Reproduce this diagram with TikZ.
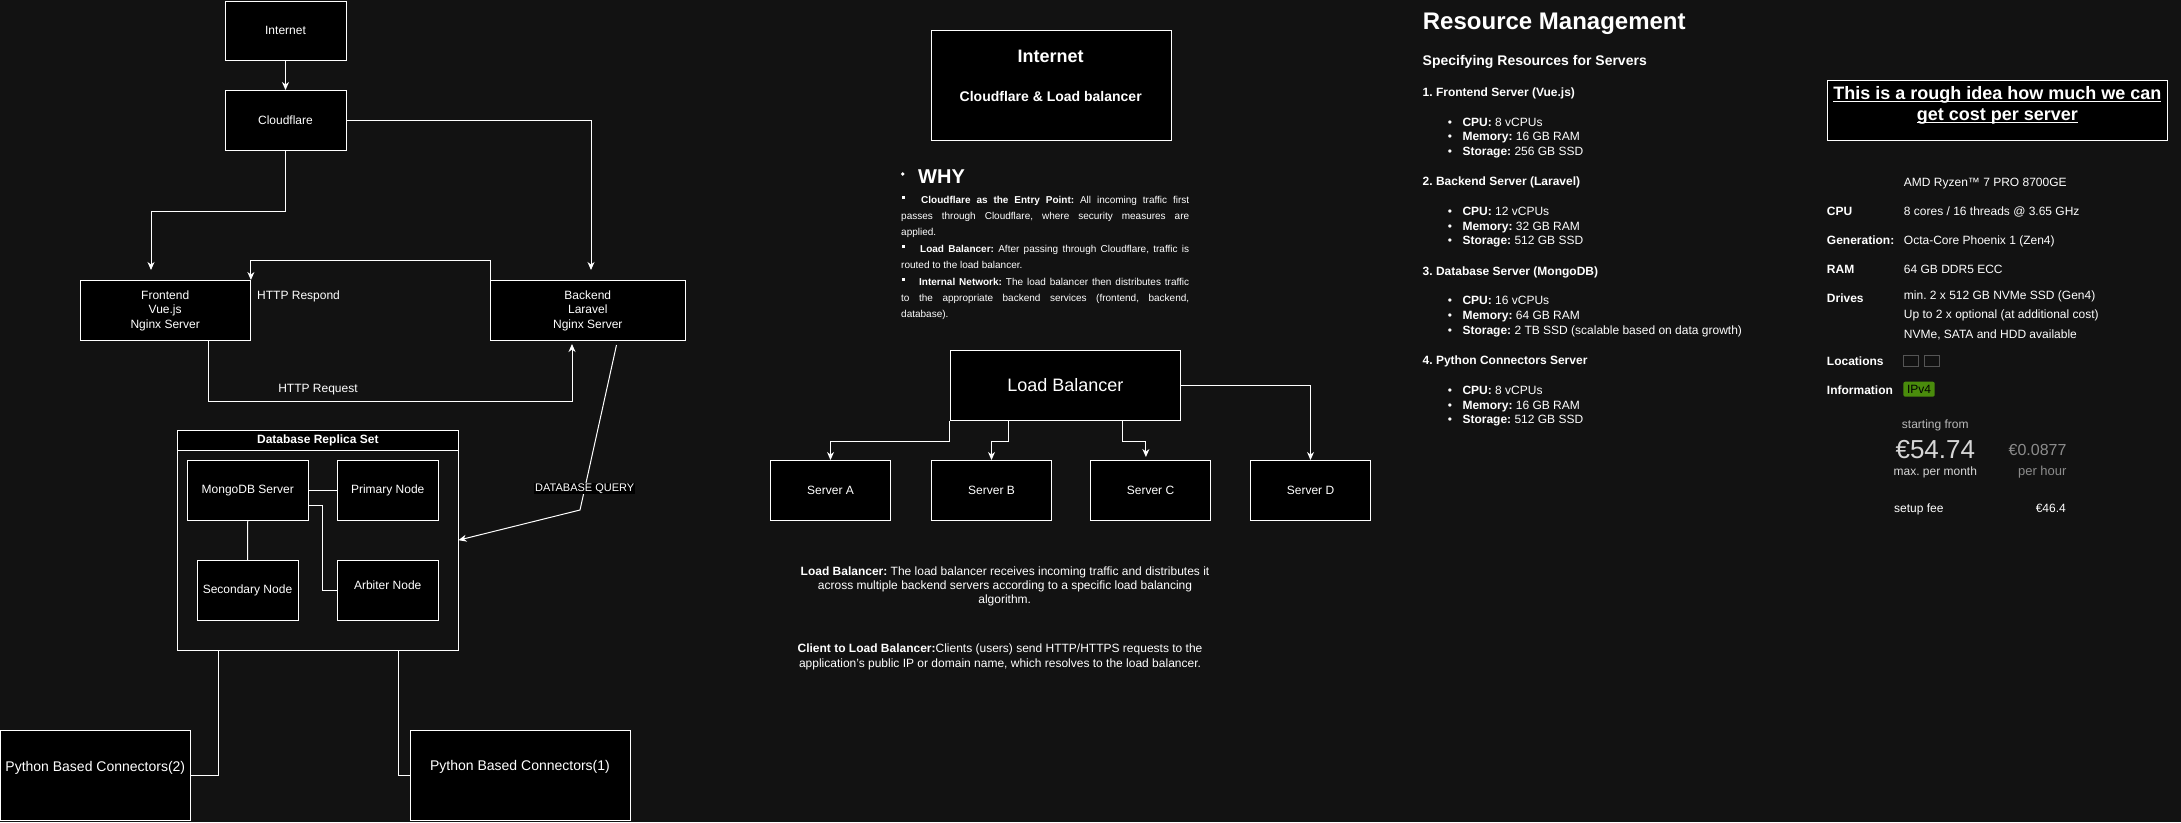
\documentclass[tikz,border=0pt]{standalone}
\usepackage{fontspec}
\setmainfont{Liberation Sans}
\usetikzlibrary{arrows.meta,calc}
\definecolor{bg}{RGB}{18,18,18}
\definecolor{badge}{RGB}{74,140,12}
\definecolor{lgrey}{RGB}{185,185,185}
\definecolor{pgrey}{RGB}{215,215,215}
\definecolor{dgrey}{RGB}{140,140,140}
\definecolor{locgrey}{RGB}{85,85,85}
\newcommand\myfs[2]{\fontsize{#1pt}{#2pt}\selectfont}
\newcommand\myul[1]{\setbox0=\hbox{#1}\rlap{\rule[-2.2pt]{\wd0}{1.2pt}}\box0}
\begin{document}
\frenchspacing
\begin{tikzpicture}[x=1pt,y=-1pt,
  box/.style={draw=white, fill=black, line width=1pt, text=white, inner sep=0pt, font=\myfs{12}{14.5}, align=center},
  ln/.style={draw=white, line width=1pt},
  arr/.style={ln, -{Stealth[length=8pt,width=7pt,inset=2.5pt]}},
  t/.style={inner sep=0pt, text=white, font=\myfs{12}{14}},
  tl/.style={t, anchor=base west},
  tc/.style={t, anchor=base},
  tr/.style={t, anchor=base east},
  bt/.style={tl, font=\bfseries\myfs{12}{14}},
]
\fill[bg] (0,0) rectangle (2181,822);
\useasboundingbox (0,0) rectangle (2181,822);

% ---------------- left diagram ----------------
\node[box, minimum width=121pt, minimum height=59pt] (inet) at (285.5,30.5) {Internet};
\node[box, minimum width=121pt, minimum height=60pt] (cf) at (285.5,120.5) {Cloudflare};
\node[box, minimum width=170.4pt, minimum height=60pt] (fe) at (165.2,310.5) {Frontend\\Vue.js\\Nginx Server};
\node[box, minimum width=194.4pt, minimum height=60pt] (be) at (587.8,310.5) {Backend\\Laravel\\Nginx Server};

\draw[arr] (inet) -- (cf);
\draw[arr] (cf.south) -- ++(0,60) -| ([xshift=-14.2pt,yshift=10pt]fe.north);
\draw[arr] (cf.east) -| ([xshift=3.2pt,yshift=10pt]be.north);
\draw[arr] (be.north west) -- ++(0,-20) -| (fe.north east);
\draw[arr] ([xshift=42.8pt]fe.south) -- ++(0,60) -| ([xshift=-15.8pt,yshift=-3pt]be.south);
\node[tl] (lresp) at (257,299.3) {HTTP Respond};
\node[tc] (lreq) at (318,392.3) {HTTP Request};

\node[draw=white, line width=1pt, minimum width=280.3pt, minimum height=219.7pt, inner sep=0pt] (rs) at (317.85,540.15) {};
\node[box, anchor=north, minimum width=280.3pt, minimum height=20pt, font=\bfseries\myfs{12}{14}] (rsh) at (rs.north) {Database Replica Set};
\node[box, minimum width=120.5pt, minimum height=60pt] (mongo) at (247.75,490.5) {MongoDB Server};
\node[box, minimum width=100.5pt, minimum height=60pt] (prim) at (387.75,490.5) {Primary Node};
\node[box, minimum width=101pt, minimum height=60pt] (sec) at (247.5,590.5) {Secondary Node};
\node[box, minimum width=100.5pt, minimum height=60pt] (arb) at (387.75,590.5) {};
\node[tc] (arbl) at (387.75,589) {Arbiter Node};
\draw[ln] (mongo.east) -- (prim.west);
\draw[ln] (mongo.south) -- (sec.north);
\draw[ln] ([yshift=-15pt]mongo.east) -- ++(14,0) |- (arb.west);

\coordinate (dqb) at (580,510);
\draw[arr] ([xshift=28.7pt,yshift=-4pt]be.south) -- node[pos=0.87, fill=black, text=white, inner sep=1pt, font=\myfs{11}{13}] (dql) {DATABASE QUERY} (dqb) -- (rs.east);

\node[box, minimum width=190pt, minimum height=90pt] (pbc2) at (95.5,775.5) {};
\node[t, font=\myfs{14}{16}] (pbc2l) at (95.3,768) {Python Based Connectors(2)};
\node[box, minimum width=220pt, minimum height=90pt] (pbc1) at (520.5,775.5) {};
\node[t, font=\myfs{14}{16}] (pbc1l) at (520,767) {Python Based Connectors(1)};
\draw[ln] ([xshift=41pt]rs.south west) |- (pbc2.east);
\draw[ln] ([xshift=221pt]rs.south west) |- (pbc1.west);

% ---------------- middle ----------------
\node[box, minimum width=240.4pt, minimum height=110pt] (ilb) at (1051.5,85.3) {};
\node[tc, font=\bfseries\myfs{18}{20}] (ilbt1) at (1050.7,62.2) {Internet};
\node[tc, font=\bfseries\myfs{14}{16}] (ilbt2) at (1050.7,101.3) {Cloudflare \& Load balancer};

\fill[white] (902.7,174) circle (1.8pt);
\node[tl, font=\bfseries\myfs{20}{22}] (why) at (918,183.2) {WHY};
\fill[white] (901.5,195.5) rectangle (904.5,198.5);
\fill[white] (901.5,244.5) rectangle (904.5,247.5);
\fill[white] (901.5,277.5) rectangle (904.5,280.5);
\node[tl, font=\myfs{10}{12}] (p1) at (921,203) {\makebox[268pt][s]{\textbf{Cloudflare as the Entry Point:} All incoming traffic first}};
\node[tl, font=\myfs{10}{12}] (p2) at (901,219.4) {\makebox[288pt][s]{passes through Cloudflare, where security measures are}};
\node[tl, font=\myfs{10}{12}] (p3) at (901,235.8) {applied.};
\node[tl, font=\myfs{10}{12}] (p4) at (920,252.2) {\makebox[269pt][s]{\textbf{Load Balancer:} After passing through Cloudflare, traffic is}};
\node[tl, font=\myfs{10}{12}] (p5) at (901,268.6) {routed to the load balancer.};
\node[tl, font=\myfs{10}{12}] (p6) at (919,285) {\makebox[270pt][s]{\textbf{Internal Network:} The load balancer then distributes traffic}};
\node[tl, font=\myfs{10}{12}] (p7) at (901,301.4) {\makebox[288pt][s]{to the appropriate backend services (frontend, backend,}};
\node[tl, font=\myfs{10}{12}] (p8) at (901,317.8) {database).};

\node[box, minimum width=229.8pt, minimum height=70pt, font=\myfs{18}{20}] (lb) at (1065.3,385.5) {Load Balancer};
\node[box, minimum width=120pt, minimum height=60pt] (sa) at (830.5,490.5) {Server A};
\node[box, minimum width=120pt, minimum height=60pt] (sb) at (991.5,490.5) {Server B};
\node[box, minimum width=120pt, minimum height=60pt] (sc) at (1150.5,490.5) {Server C};
\node[box, minimum width=120pt, minimum height=60pt] (sd) at (1310.5,490.5) {Server D};
\draw[arr] (lb.south west) -- ++(0,20) -| (sa.north);
\draw[arr] ([xshift=-57.3pt]lb.south) -- ++(0,20) -| (sb.north);
\draw[arr] ([xshift=57.3pt]lb.south) -- ++(0,20) -| ([xshift=-4.6pt,yshift=3pt]sc.north);
\draw[arr] (lb.east) -| (sd.north);

\node[tc] (lbd1) at (1005,575) {\textbf{Load Balancer:} The load balancer receives incoming traffic and distributes it};
\node[tc] (lbd2) at (1005,589.3) {across multiple backend servers according to a specific load balancing};
\node[tc] (lbd3) at (1004.7,603.6) {algorithm.};
\node[tc] (cl1) at (1000,652) {\textbf{Client to Load Balancer:}Clients (users) send HTTP/HTTPS requests to the};
\node[tc] (cl2) at (1000,667) {application's public IP or domain name, which resolves to the load balancer.};

% ---------------- resource management ----------------
\node[tl, font=\bfseries\myfs{24}{26}] (rm) at (1422.7,29.3) {Resource Management};
\node[tl, font=\bfseries\myfs{14}{16}] (spec) at (1422.5,65.3) {Specifying Resources for Servers};

\node[bt] (h1) at (1422.5,96) {1. Frontend Server (Vue.js)};
\node[tc] (b11) at (1450,126) {•}; \node[tl] (i11) at (1462.3,126) {\textbf{CPU:} 8 vCPUs};
\node[tc] (b12) at (1450,140) {•}; \node[tl] (i12) at (1462.3,140) {\textbf{Memory:} 16 GB RAM};
\node[tc] (b13) at (1450,155) {•}; \node[tl] (i13) at (1462.3,155) {\textbf{Storage:} 256 GB SSD};

\node[bt] (h2) at (1422.5,185) {2. Backend Server (Laravel)};
\node[tc] (b21) at (1450,215) {•}; \node[tl] (i21) at (1462.3,215) {\textbf{CPU:} 12 vCPUs};
\node[tc] (b22) at (1450,230) {•}; \node[tl] (i22) at (1462.3,230) {\textbf{Memory:} 32 GB RAM};
\node[tc] (b23) at (1450,244) {•}; \node[tl] (i23) at (1462.3,244) {\textbf{Storage:} 512 GB SSD};

\node[bt] (h3) at (1422.5,275) {3. Database Server (MongoDB)};
\node[tc] (b31) at (1450,304.6) {•}; \node[tl] (i31) at (1462.3,304.6) {\textbf{CPU:} 16 vCPUs};
\node[tc] (b32) at (1450,319) {•}; \node[tl] (i32) at (1462.3,319) {\textbf{Memory:} 64 GB RAM};
\node[tc] (b33) at (1450,334) {•}; \node[tl] (i33) at (1462.3,334) {\textbf{Storage:} 2 TB SSD (scalable based on data growth)};

\node[bt] (h4) at (1422.5,364) {4. Python Connectors Server};
\node[tc] (b41) at (1450,394) {•}; \node[tl] (i41) at (1462.3,394) {\textbf{CPU:} 8 vCPUs};
\node[tc] (b42) at (1450,409) {•}; \node[tl] (i42) at (1462.3,409) {\textbf{Memory:} 16 GB RAM};
\node[tc] (b43) at (1450,423) {•}; \node[tl] (i43) at (1462.3,423) {\textbf{Storage:} 512 GB SSD};

% ---------------- cost panel ----------------
\node[box, minimum width=340.4pt, minimum height=60pt] (cost) at (1997.5,110.3) {};
\node[tc, font=\bfseries\myfs{18}{20}] (cost1) at (1997.3,99.8) {\myul{This is a rough idea how much we can}};
\node[tc, font=\bfseries\myfs{18}{20}] (cost2) at (1997.3,120.5) {\myul{get cost per server}};

\node[tl] (amd) at (1903.7,186.3) {AMD Ryzen™ 7 PRO 8700GE};
\node[bt] (cpul) at (1826.7,215.3) {CPU};
\node[tl] (cpuv) at (1903.7,215.3) {8 cores / 16 threads @ 3.65 GHz};
\node[bt] (genl) at (1826.7,244.3) {Generation:};
\node[tl] (genv) at (1903.7,244.3) {Octa-Core Phoenix 1 (Zen4)};
\node[bt] (raml) at (1826.7,273) {RAM};
\node[tl] (ramv) at (1903.7,273) {64 GB DDR5 ECC};
\node[bt] (drl) at (1826.7,302) {Drives};
\node[tl] (drv1) at (1903.7,299.6) {min. 2 x 512 GB NVMe SSD (Gen4)};
\node[tl] (drv2) at (1903.7,318.3) {Up to 2 x optional (at additional cost)};
\node[tl] (drv3) at (1903.7,338.3) {NVMe, SATA and HDD available};
\node[bt] (locl) at (1826.7,365) {Locations};
\draw[locgrey, line width=0.8pt] (1903.3,355.3) rectangle (1918.7,366.3);
\draw[locgrey, line width=0.8pt] (1924.3,355.3) rectangle (1939.7,366.3);
\node[bt] (infl) at (1826.7,394) {Information};
\node[fill=badge, rounded corners=2pt, minimum width=31.4pt, minimum height=15pt, inner sep=0pt, text=black, font=\myfs{12}{14}] (ipv4) at (1919,389.2) {IPv4};

\node[tc, text=lgrey] (sf) at (1935.3,428) {starting from};
\node[tc, text=pgrey, font=\myfs{26}{28}] (price) at (1935.3,458.7) {€54.74};
\node[tc, text=pgrey] (mpm) at (1935.3,475) {max. per month};
\node[tr, text=dgrey, font=\myfs{16}{18}] (ph) at (2066.7,455.1) {€0.0877};
\node[tr, text=dgrey, font=\myfs{13}{15}] (phl) at (2066.7,475.4) {per hour};
\node[tl] (sfee) at (1894,512) {setup fee};
\node[tr] (sfeev) at (2066,512) {€46.4};
\end{tikzpicture}
\end{document}
